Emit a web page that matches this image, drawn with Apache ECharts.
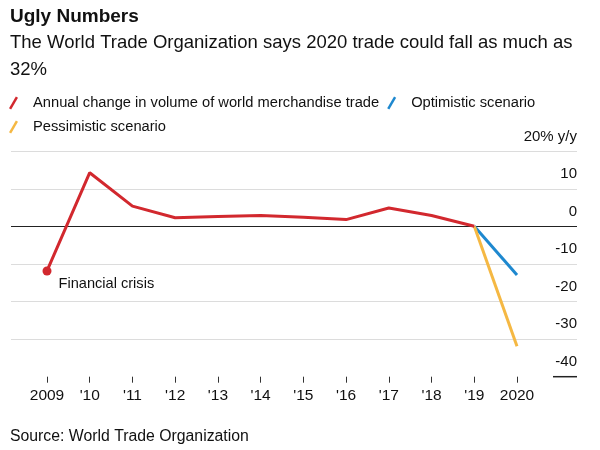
<!DOCTYPE html>
<html>
<head>
<meta charset="utf-8">
<script src="https://cdn.jsdelivr.net/npm/echarts@6/dist/echarts.min.js"></script>
<style>
  html, body { margin: 0; padding: 0; background: #fff; }
  #chart { width: 600px; height: 450px; }
</style>
</head>
<body>
<div id="chart"></div>
<script>
const years = ['2009', '2010', '2011', '2012', '2013', '2014', '2015', '2016', '2017', '2018', '2019', '2020'];
const yearLabels = ['2009', "'10", "'11", "'12", "'13", "'14", "'15", "'16", "'17", "'18", "'19", '2020'];
const tradeChange = [-11.8, 14.4, 5.5, 2.4, 2.7, 3.0, 2.5, 1.9, 5.0, 3.0, 0.1, null];
const optimistic = [null, null, null, null, null, null, null, null, null, null, 0.1, -12.9];
const pessimistic = [null, null, null, null, null, null, null, null, null, null, 0.1, -31.9];
const yTicks = { min: -40, max: 20, interval: 10 };

const FONT = '"Liberation Sans", Arial, Helvetica, sans-serif';
const RED = '#d2282e';
const BLUE = '#1e88cf';
const YELLOW = '#f5b843';
const slash = 'path://M0,12 L7,0 L9.2,1.3 L2.2,13.3 Z';

const chart = echarts.init(document.getElementById('chart'), null, { renderer: 'canvas' });

const gridTop = 151.7;
const gridBottom = 73.3;

const option = {
  backgroundColor: '#fff',
  animation: false,
  textStyle: { fontFamily: FONT },
  title: [
    {
      text: 'Ugly Numbers',
      left: 10, top: 5, padding: 0,
      textStyle: { fontFamily: FONT, fontSize: 19, fontWeight: 'bold', color: '#111', lineHeight: 24 }
    },
    {
      text: 'The World Trade Organization says 2020 trade could fall as much as\n32%',
      left: 10, top: 30, padding: 0,
      textStyle: { fontFamily: FONT, fontSize: 18.5, fontWeight: 'normal', color: '#111', lineHeight: 26.5 }
    },
    {
      text: 'Source: World Trade Organization',
      left: 10, top: 427, padding: 0,
      textStyle: { fontFamily: FONT, fontSize: 15.8, fontWeight: 'normal', color: '#111', lineHeight: 19 }
    }
  ],
  legend: {
    left: 9, top: 95, width: 560, padding: 0,
    orient: 'horizontal',
    itemWidth: 20, itemHeight: 13, itemGap: 8,
    textStyle: { fontFamily: FONT, fontSize: 14.7, color: '#111', lineHeight: 16, padding: [0, 0, 0, 4.5] },
    data: [
      { name: 'Annual change in volume of world merchandise trade', icon: slash, itemStyle: { color: RED } },
      { name: 'Optimistic scenario', icon: slash, itemStyle: { color: BLUE } },
      { name: 'Pessimistic scenario', icon: slash, itemStyle: { color: YELLOW } }
    ]
  },
  grid: [
    { left: 11, right: 23, top: gridTop, bottom: gridBottom, containLabel: false },
    { left: 47, right: 83, top: gridTop, bottom: gridBottom, containLabel: false }
  ],
  xAxis: [
    { gridIndex: 0, type: 'category', data: years, show: false },
    {
      gridIndex: 1, type: 'category', data: years, boundaryGap: false, position: 'bottom',
      axisLine: { show: false, onZero: false },
      axisTick: { show: true, length: 6, interval: 0, lineStyle: { color: '#333', width: 1 } },
      axisLabel: {
        margin: 11, interval: 0, fontFamily: FONT, fontSize: 15.5, color: '#111',
        formatter: (v, i) => yearLabels[i]
      },
      splitLine: { show: false }
    }
  ],
  yAxis: [
    {
      gridIndex: 0, type: 'value', position: 'right',
      min: yTicks.min, max: yTicks.max, interval: yTicks.interval,
      axisLine: { show: false }, axisTick: { show: false },
      axisLabel: {
        inside: true, margin: 0, fontFamily: FONT, fontSize: 15, color: '#111',
        verticalAlign: 'bottom', lineHeight: 15, padding: [0, 0, 7.5, 0],
        formatter: v => (v === yTicks.max ? v + '% y/y' : String(v))
      },
      splitLine: {
        show: true,
        lineStyle: { color: ['rgba(0,0,0,0)', '#dcdcdc', '#dcdcdc', '#dcdcdc', '#222222', '#dcdcdc', '#dcdcdc'], width: 1 }
      }
    },
    {
      gridIndex: 1, type: 'value', min: yTicks.min, max: yTicks.max, interval: yTicks.interval,
      show: false, splitLine: { show: false }
    }
  ],
  series: [
    {
      name: 'Annual change in volume of world merchandise trade',
      type: 'line', xAxisIndex: 1, yAxisIndex: 1,
      data: tradeChange.map((v, i) => i === 0 ? {
        value: v, symbol: 'circle', symbolSize: 9,
        label: {
          show: true, position: 'right', offset: [2, 13],
          formatter: 'Financial crisis', fontFamily: FONT, fontSize: 14.6, color: '#111'
        }
      } : v),
      showSymbol: true, symbol: 'none',
      lineStyle: { color: RED, width: 3 }, itemStyle: { color: RED },
      z: 3
    },
    {
      name: 'Optimistic scenario',
      type: 'line', xAxisIndex: 1, yAxisIndex: 1,
      data: optimistic, symbol: 'none',
      lineStyle: { color: BLUE, width: 3 }, itemStyle: { color: BLUE },
      z: 2
    },
    {
      name: 'Pessimistic scenario',
      type: 'line', xAxisIndex: 1, yAxisIndex: 1,
      data: pessimistic, symbol: 'none',
      lineStyle: { color: YELLOW, width: 3 }, itemStyle: { color: YELLOW },
      z: 2
    }
  ]
};

chart.setOption(option);

// short rule under the lowest tick label
const yLow = chart.convertToPixel({ yAxisIndex: 0 }, yTicks.min);
const xRight = 600 - 23;
chart.setOption({
  graphic: [{
    type: 'line', silent: true,
    shape: { x1: xRight - 24, y1: yLow, x2: xRight, y2: yLow },
    style: { stroke: '#222', lineWidth: 1.5 }
  }]
});
</script>
</body>
</html>
